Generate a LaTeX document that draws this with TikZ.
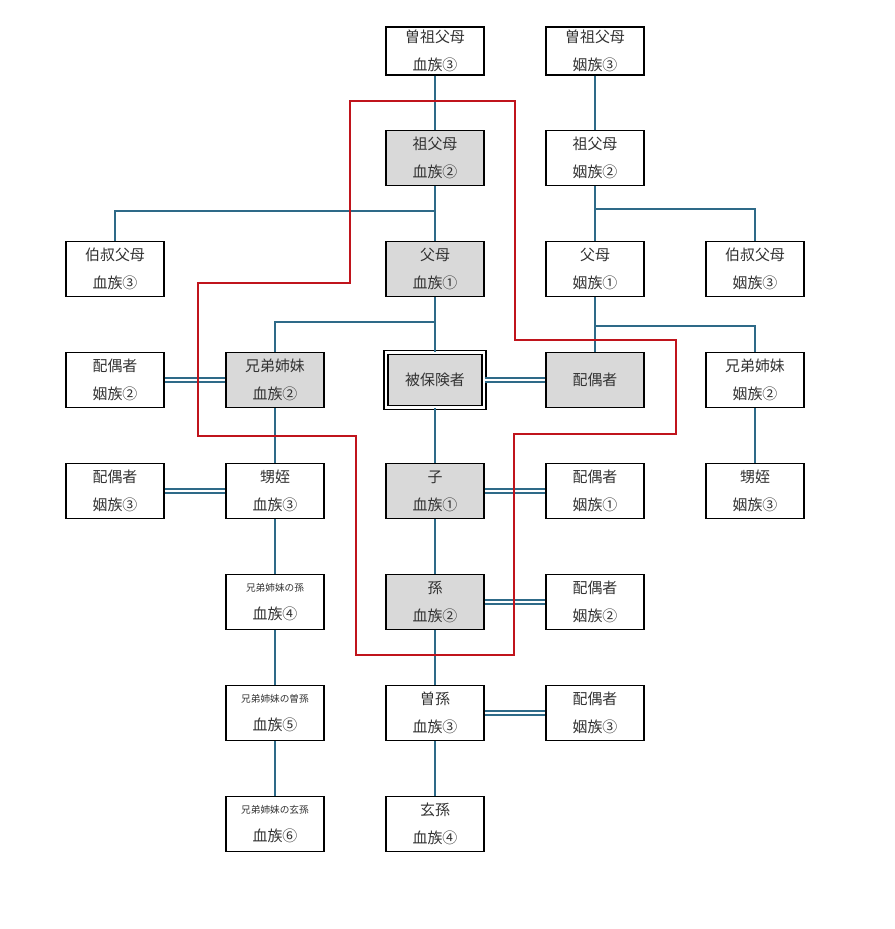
\documentclass[tikz,border=0pt]{standalone}
\usepackage{fontspec}
\newfontfamily\cjk{Noto Sans CJK JP}
\usetikzlibrary{positioning}
\definecolor{linkc}{HTML}{2E6A88}
\definecolor{redc}{HTML}{C0141C}
\definecolor{boxg}{HTML}{D9D9D9}
\tikzset{
  box/.style={draw=black, thick, minimum width=1.96cm, minimum height=1.1cm, inner sep=0pt,
    align=center, font=\cjk\fontsize{8.5}{16}\selectfont, text=black!80},
  kin/.style={box, fill=boxg},
  link/.style={draw=linkc, thick},
  marry/.style={draw=linkc, double=white, double distance=1.6pt, thick},
}
\newcommand{\smalltxt}[1]{{\fontsize{5.5}{16}\selectfont #1}}
\begin{document}
\begin{tikzpicture}[x=0.02cm,y=-0.02cm]
\useasboundingbox (0,0) rectangle (895,929);
\fill[white] (0,0) rectangle (895,929);

% ancestors
\node[box, minimum height=0.96cm] (ggb) at (435,51) {曽祖父母\\血族③};
\node[box, minimum height=0.96cm] (ggi) at (595,51) {曽祖父母\\姻族③};
\node[kin] (gpb) at (435,158) {祖父母\\血族②};
\node[box] (gpi) at (595,158) {祖父母\\姻族②};
\node[box] (unb) at (115,269) {伯叔父母\\血族③};
\node[kin] (pab) at (435,269) {父母\\血族①};
\node[box] (pai) at (595,269) {父母\\姻族①};
\node[box] (uni) at (755,269) {伯叔父母\\姻族③};

% own generation
\node[box] (sp2) at (115,380) {配偶者\\姻族②};
\node[kin] (sib) at (275,380) {兄弟姉妹\\血族②};
\node[kin, double, double distance=1.5pt] (me) at (435,380) {被保険者};
\node[kin] (spo) at (595,380) {配偶者};
\node[box] (sibi) at (755,380) {兄弟姉妹\\姻族②};

% descendants
\node[box] (sp3) at (115,491) {配偶者\\姻族③};
\node[box] (nep) at (275,491) {甥姪\\血族③};
\node[kin] (chi) at (435,491) {子\\血族①};
\node[box] (cs1) at (595,491) {配偶者\\姻族①};
\node[box] (nepi) at (755,491) {甥姪\\姻族③};
\node[box] (sg1) at (275,602) {\smalltxt{兄弟姉妹の孫}\\血族④};
\node[kin] (gch) at (435,602) {孫\\血族②};
\node[box] (cs2) at (595,602) {配偶者\\姻族②};
\node[box] (sg2) at (275,713) {\smalltxt{兄弟姉妹の曽孫}\\血族⑤};
\node[box] (ggc) at (435,713) {曽孫\\血族③};
\node[box] (cs3) at (595,713) {配偶者\\姻族③};
\node[box] (sg3) at (275,824) {\smalltxt{兄弟姉妹の玄孫}\\血族⑥};
\node[box] (gggc) at (435,824) {玄孫\\血族④};

% junctions
\coordinate (j1) at (435,211);
\coordinate (j2) at (595,209);
\coordinate (j3) at (435,322);
\coordinate (j4) at (595,326);

% blood lines
\draw[link] (ggb) -- (gpb) -- (pab) -- (me) -- (chi) -- (gch) -- (ggc) -- (gggc);
\draw[link] (ggi) -- (gpi) -- (pai) -- (spo);
\draw[link] (j1) -| (unb.north);
\draw[link] (j2) -| (uni.north);
\draw[link] (j3) -| (sib.north);
\draw[link] (j4) -| (sibi.north);
\draw[link] (sib) -- (nep) -- (sg1) -- (sg2) -- (sg3);
\draw[link] (sibi) -- (nepi);

% marriages
\draw[marry] (sp2) -- (sib);
\draw[marry] (sp3) -- (nep);
\draw[marry] (me) -- (spo);
\draw[marry] (chi) -- (cs1);
\draw[marry] (gch) -- (cs2);
\draw[marry] (ggc) -- (cs3);

% range of dependants
\draw[redc, thick] (350,101) -- (515,101) -- (515,340) -- (676,340) -- (676,434)
  -- (514,434) -- (514,655) -- (356,655) -- (356,436) -- (198,436) -- (198,283)
  -- (350,283) -- cycle;
\end{tikzpicture}
\end{document}
